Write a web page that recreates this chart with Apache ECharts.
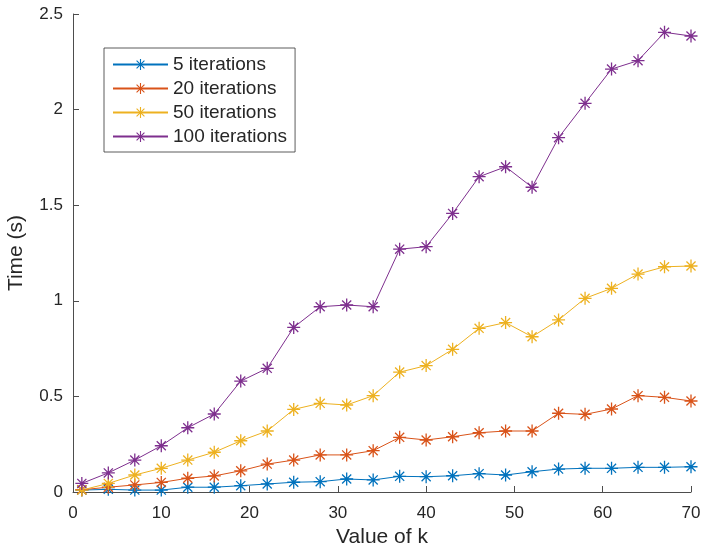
<!DOCTYPE html>
<html>
<head>
<meta charset="utf-8">
<script src="https://cdn.jsdelivr.net/npm/echarts@6/dist/echarts.min.js"></script>
<style>html,body{margin:0;padding:0;background:#fff;}#c{width:702px;height:549px;}</style>
</head>
<body>
<div id="c"></div>
<script>
const kValues = [1,4,7,10,13,16,19,22,25,28,31,34,37,40,43,46,49,52,55,58,61,64,67,70];
const seriesNames = ['5 iterations','20 iterations','50 iterations','100 iterations'];
const iter5 = [0.01,0.014,0.01,0.01,0.025,0.025,0.033,0.042,0.051,0.054,0.068,0.063,0.082,0.080,0.085,0.096,0.089,0.106,0.120,0.124,0.124,0.129,0.129,0.132];
const iter20 = [0.012,0.025,0.037,0.05,0.072,0.084,0.111,0.146,0.167,0.194,0.194,0.216,0.286,0.272,0.289,0.310,0.319,0.319,0.412,0.406,0.434,0.504,0.495,0.476];
const iter50 = [0.01,0.045,0.089,0.124,0.167,0.208,0.268,0.319,0.432,0.464,0.455,0.504,0.627,0.661,0.746,0.856,0.886,0.812,0.900,1.013,1.065,1.140,1.178,1.182];
const iter100 = [0.045,0.10,0.167,0.242,0.336,0.408,0.58,0.647,0.861,0.969,0.978,0.969,1.270,1.283,1.457,1.649,1.701,1.594,1.853,2.033,2.212,2.256,2.404,2.385];
const colors = ['#0072BD','#D95319','#EDB120','#7E2F8E'];
const allData = [iter5, iter20, iter50, iter100];

const star = 'path://M0 9L20 9L20 11L0 11Z M9 0L11 0L11 20L9 20Z M3.7 2.3L17.7 16.3L16.3 17.7L2.3 3.7Z M16.3 2.3L17.7 3.7L3.7 17.7L2.3 16.3Z';
const font = 'Liberation Sans, Arial, Helvetica, sans-serif';
const txt = '#262626';
const axisCol = '#4d4d4d';

const chart = echarts.init(document.getElementById('c'), null, {renderer:'canvas'});
chart.setOption({
  animation: false,
  color: colors,
  grid: {left: 73, right: 11, top: 14, bottom: 57, containLabel: false, outerBoundsMode: 'none'},
  legend: {
    orient: 'vertical',
    left: 104, top: 48,
    padding: [7, 8, 6, 8],
    itemWidth: 55, itemHeight: 14, itemGap: 5,
    backgroundColor: '#fff',
    borderColor: '#333', borderWidth: 0.8, borderRadius: 0,
    textStyle: {fontFamily: font, fontSize: 19, color: txt},
    data: seriesNames
  },
  xAxis: {
    type: 'value', min: 0, max: 70, interval: 10,
    name: 'Value of k', nameLocation: 'middle', nameGap: 35,
    nameTextStyle: {fontFamily: font, fontSize: 21, color: txt},
    axisLine: {show: true, onZero: false, lineStyle: {color: axisCol, width: 1}},
    axisTick: {show: true, inside: true, length: 6, lineStyle: {color: axisCol}},
    axisLabel: {fontFamily: font, fontSize: 17, color: txt, margin: 13},
    splitLine: {show: false}
  },
  yAxis: {
    type: 'value', min: 0, max: 2.5, interval: 0.5,
    name: 'Time (s)', nameLocation: 'middle', nameGap: 46,
    nameTextStyle: {fontFamily: font, fontSize: 21, color: txt},
    axisLine: {show: true, onZero: false, lineStyle: {color: axisCol, width: 1}},
    axisTick: {show: true, inside: true, length: 6, lineStyle: {color: axisCol}},
    axisLabel: {fontFamily: font, fontSize: 17, color: txt, margin: 10},
    splitLine: {show: false}
  },
  series: allData.map((d, i) => ({
    name: seriesNames[i],
    type: 'line',
    data: kValues.map((k, j) => [k, d[j]]),
    symbol: star,
    symbolSize: 13,
    showAllSymbol: true,
    lineStyle: {width: 1, color: colors[i]},
    itemStyle: {color: colors[i]},
    emphasis: {disabled: true}
  }))
});
</script>
</body>
</html>
